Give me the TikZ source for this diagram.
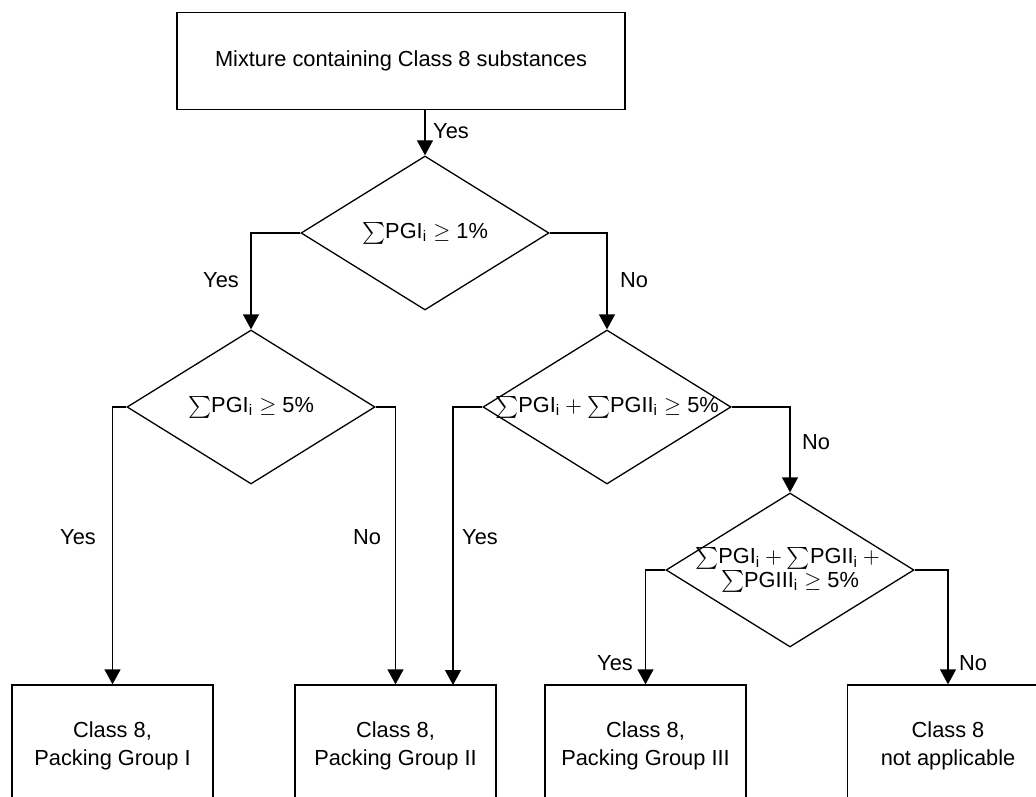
\documentclass[tikz,border=0pt]{standalone}
\usepackage{amsmath}
\usepackage{fontspec}
\setmainfont{Liberation Sans}
\usetikzlibrary{shapes.geometric,arrows.meta}
\newcommand\tightlines{\fontsize{10.9}{11.6}\selectfont\lineskiplimit=-20pt\relax}

\begin{document}
\begin{tikzpicture}[x=0.5pt,y=-0.5pt,
    every node/.style={font=\fontsize{10.9}{13.8}\selectfont},
    box/.style={draw,line width=0.65pt,inner sep=0pt,align=center,
      minimum width=100.5pt,minimum height=61pt},
    dec/.style={draw,diamond,line width=0.65pt,inner sep=0pt,
      minimum width=124pt,minimum height=77pt},
    arr/.style={line width=0.65pt,-{Triangle[length=7.5pt,width=8pt]}}]
    \useasboundingbox (0,0) rectangle (1036,796);
    \clip (0,0) rectangle (1036,796);
    % Boxes
    \node[box,minimum width=224pt,minimum height=48.5pt] (mix) at (401,61)
      {Mixture containing Class 8 substances};
    \node[box] (pg1) at (112.5,746) {Class 8,\\Packing Group I};
    \node[box] (pg2) at (395.5,746) {Class 8,\\Packing Group II};
    \node[box] (pg3) at (645.5,746) {Class 8,\\Packing Group III};
    \node[box] (na) at (948,746) {Class 8\\not applicable};
    \coordinate (pg2b) at (453,685);
    % Decisions
    \node[dec,label={center:${\sum}\text{PGI}_{\text{i}} \geq \text{1\%}$}]
      (d1) at (425,233) {};
    \node[dec,label={center:${\sum}\text{PGI}_{\text{i}} \geq \text{5\%}$}]
      (d2) at (251,407) {};
    \node[dec,label={center:${\sum}\text{PGI}_{\text{i}} + {\sum}\text{PGII}_{\text{i}} \geq \text{5\%}$}]
      (d3) at (607,407) {};
    \node[dec,label={[align=center,font=\tightlines]center:${\sum}\text{PGI}_{\text{i}} + {\sum}\text{PGII}_{\text{i}} +{}$\\${\sum}\text{PGIII}_{\text{i}} \geq \text{5\%}$}]
      (d4) at (790,570) {};
    % Arrows
    \draw[arr] (d1.north |- mix.south) -- (d1.north);
    \draw[arr] (d1.west) -| (d2.north);
    \draw[arr] (d1.east) -| (d3.north);
    \draw[arr] (d2.west) -| (pg1.north);
    \draw[arr] (d2.east) -| (pg2.north);
    \draw[arr] (d3.west) -| (pg2b);
    \draw[arr] (d3.east) -| (d4.north);
    \draw[arr] (d4.west) -| (pg3.north);
    \draw[arr] (d4.east) -| (na.north);
    % Labels
    \node (y1) at (451,131) {Yes};
    \node (y2) at (221,280) {Yes};
    \node (n2) at (634,280) {No};
    \node (y3) at (78,537) {Yes};
    \node (n3) at (367,537) {No};
    \node (y4) at (480,537) {Yes};
    \node (n4) at (816,442) {No};
    \node (y5) at (615,663) {Yes};
    \node (n5) at (973,663) {No};
\end{tikzpicture}
\end{document}
